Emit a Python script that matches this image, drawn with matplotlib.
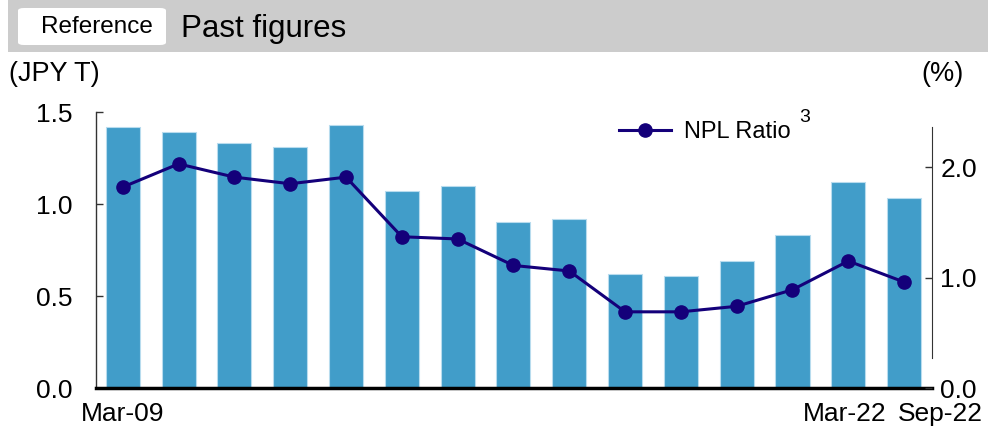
import matplotlib
matplotlib.use("Agg")
import matplotlib.pyplot as plt
import matplotlib.transforms as mtransforms
from matplotlib.patches import FancyBboxPatch, Rectangle
import numpy as np

plt.rcParams['font.family'] = ['Liberation Sans', 'DejaVu Sans']

# ---- data ----
periods = list(range(15))
npl_amount = [1.42, 1.39, 1.33, 1.31, 1.43, 1.07, 1.10, 0.90, 0.92, 0.62, 0.61, 0.69, 0.83, 1.12, 1.03]
npl_ratio = [1.82, 2.03, 1.91, 1.85, 1.91, 1.37, 1.35, 1.11, 1.06, 0.69, 0.69, 0.74, 0.89, 1.15, 0.96]
tick_pos = [0, 13, 14]
tick_labels = ["Mar-09", "Mar-22", "Sep-22"]
left_ticks = [0.0, 0.5, 1.0, 1.5]
right_ticks = [0.0, 1.0, 2.0]

BAR = "#419dc9"
LINE = "#14007a"

fig = plt.figure(figsize=(9.88, 4.30), dpi=100)

# header band
fig.patches.append(Rectangle((8/988, 1 - 52/430), 1 - 8/988, 52/430,
                             transform=fig.transFigure, facecolor="#cccccc",
                             edgecolor="none", zorder=0))
fig.patches.append(FancyBboxPatch((18/988, 1 - 45/430), 148/988, 37/430,
                                  boxstyle="round,pad=0,rounding_size=0.006",
                                  transform=fig.transFigure, facecolor="white",
                                  edgecolor="none", zorder=1))
fig.text(97/988, 1 - 27/430, "Reference", ha="center", va="center", fontsize=17.5, color="black")
fig.text(181/988, 1 - 29/430, "Past figures", ha="left", va="center", fontsize=22.5, color="black")
fig.text(9/988, 1 - 74/430, "(JPY T)", ha="left", va="center", fontsize=19.5)
fig.text(964/988, 1 - 74/430, "(%)", ha="right", va="center", fontsize=19.5)

ax = fig.add_axes([96/988, 42/430, (932 - 96)/988, (388 - 112)/430])
ax.bar(periods, npl_amount, width=0.61, color=BAR, edgecolor="#b8dcee", linewidth=0.8, zorder=2)
ax.set_xlim(-0.48, 14.5)
ax.set_ylim(0, 1.5)
ax.set_yticks(left_ticks)
ax.set_yticklabels([f"{v:.1f}" for v in left_ticks], fontsize=19)
ax.tick_params(axis="y", direction="in", length=5, width=1, color="#333333", pad=17)
ax.set_xticks(tick_pos)
ax.set_xticklabels(tick_labels, fontsize=19)
ax.tick_params(axis="x", length=0, pad=10)
lbls = ax.get_xticklabels()
lbls[1].set_transform(lbls[1].get_transform() + mtransforms.ScaledTranslation(-0.04, 0, fig.dpi_scale_trans))
lbls[2].set_transform(lbls[2].get_transform() + mtransforms.ScaledTranslation(0.36, 0, fig.dpi_scale_trans))
ax.spines["top"].set_visible(False)
ax.spines["right"].set_visible(False)
ax.spines["left"].set_color("#333333")
ax.spines["left"].set_linewidth(1)
ax.spines["bottom"].set_linewidth(2.5)
ax.spines["bottom"].set_color("black")
ax.spines["bottom"].set_zorder(5)

ax2 = ax.twinx()
ax2.plot(periods, npl_ratio, color=LINE, linewidth=2.2, marker="o", markersize=9.5, zorder=3,
         label="NPL Ratio")
ax2.set_ylim(0, 2.5)
ax2.set_yticks(right_ticks)
ax2.set_yticklabels([f"{v:.1f}" for v in right_ticks], fontsize=19)
ax2.tick_params(axis="y", direction="in", length=5, width=1, color="#333333", pad=6)
ax2.spines["right"].set_bounds(0.27, 2.36)
ax2.spines["right"].set_color("#333333")
for s in ["top", "left", "bottom"]:
    ax2.spines[s].set_visible(False)

leg = ax2.legend(loc="upper left", bbox_to_anchor=(0.6, 1.045), frameon=False,
                 fontsize=17, handlelength=2.2, handletextpad=0.55)
fig.text(799/988, 1 - 117/430, "3", fontsize=14, ha="left", va="center")

fig.savefig("out.png", dpi=100)
